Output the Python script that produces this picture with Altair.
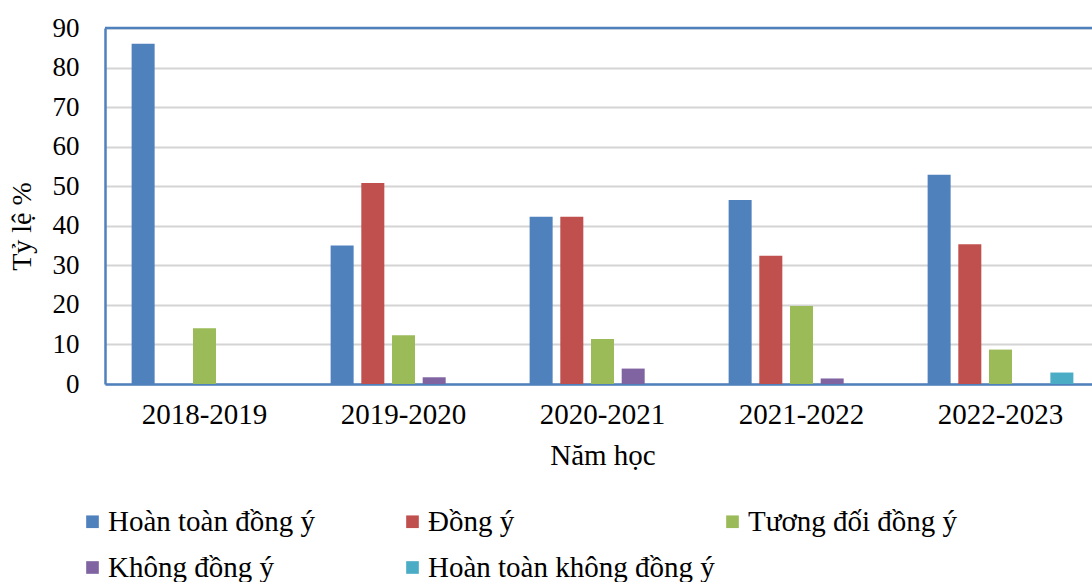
import altair as alt
import pandas as pd

# School years on the x axis
years = ["2018-2019", "2019-2020", "2020-2021", "2021-2022", "2022-2023"]

# Response categories, in legend / bar order
series = [
    "Hoàn toàn đồng ý",
    "Đồng ý",
    "Tương đối đồng ý",
    "Không đồng ý",
    "Hoàn toàn không đồng ý",
]
colors = ["#4f81bd", "#c0504d", "#9bbb59", "#8064a2", "#4bacc6"]

# Percentages per category, one value per school year
hoan_toan_dong_y = [86.0, 35.0, 42.3, 46.5, 52.9]
dong_y = [0.0, 50.8, 42.3, 32.4, 35.3]
tuong_doi_dong_y = [14.1, 12.3, 11.4, 19.7, 8.7]
khong_dong_y = [0.0, 1.7, 3.9, 1.4, 0.0]
hoan_toan_khong_dong_y = [0.0, 0.0, 0.0, 0.0, 2.9]

y_ticks = [0, 10, 20, 30, 40, 50, 60, 70, 80, 90]

values_by_series = [
    hoan_toan_dong_y,
    dong_y,
    tuong_doi_dong_y,
    khong_dong_y,
    hoan_toan_khong_dong_y,
]
rows = []
for name, vals in zip(series, values_by_series):
    for yr, v in zip(years, vals):
        rows.append({"year": yr, "series": name, "value": v})
df = pd.DataFrame(rows)

FONT = "Liberation Serif"
FRAME = "#4f81bd"

y_axis = alt.Axis(
    title="Tỷ lệ %",
    values=y_ticks,
    tickCount=10,
    labelOverlap=False,
    ticks=False,
    labelPadding=26,
    labelFont=FONT,
    labelFontSize=27,
    labelColor="#000000",
    titleFont=FONT,
    titleFontSize=28,
    titleFontWeight="normal",
    titleColor="#000000",
    titleX=-83,
    titleY=198,
    titleBaseline="middle",
    titleAngle=270,
    domainColor=FRAME,
    domainWidth=2.5,
    gridColor="#d4d4d4",
    gridWidth=2,
)
y_scale = alt.Scale(domain=[0, 90], nice=False)

bars = alt.Chart(df).mark_bar().encode(
    x=alt.X(
        "year:N",
        sort=years,
        scale=alt.Scale(range=[0, 995], paddingInner=0.229, paddingOuter=0.1145),
        axis=alt.Axis(
            title="Năm học",
            labelAngle=0,
            ticks=False,
            labelPadding=16,
            labelFont=FONT,
            labelFontSize=29,
            labelColor="#000000",
            titleFont=FONT,
            titleFontSize=29,
            titleFontWeight="normal",
            titleColor="#000000",
            titlePadding=12,
            domainColor=FRAME,
            domainWidth=2.5,
        ),
    ),
    xOffset=alt.XOffset(
        "series:N",
        sort=series,
        scale=alt.Scale(domain=series, paddingInner=0.25, paddingOuter=0.125),
    ),
    y=alt.Y("value:Q", scale=y_scale, axis=y_axis),
    color=alt.Color(
        "series:N",
        scale=alt.Scale(domain=series, range=colors),
        legend=alt.Legend(
            title=None,
            orient="none",
            legendX=-27,
            legendY=479,
            columns=3,
            direction="horizontal",
            gridAlign="all",
            columnPadding=3,
            rowPadding=16,
            symbolType="square",
            symbolSize=160,
            symbolStrokeWidth=0,
            symbolOpacity=1,
            labelFont=FONT,
            labelFontSize=29,
            labelColor="#000000",
            labelOffset=1,
            labelLimit=500,
        ),
    ),
)

# Upper edge of the plot frame
top_edge = alt.Chart(pd.DataFrame({"value": [90]})).mark_rule(
    color=FRAME, strokeWidth=2.5
).encode(y=alt.Y("value:Q", scale=y_scale, axis=y_axis))

chart = (
    alt.layer(bars, top_edge)
    .properties(
        width=987,
        height=356,
        autosize=alt.AutoSizeParams(type="none"),
        padding={"left": 105, "top": 28, "right": 0, "bottom": 198},
        background="#ffffff",
    )
    .configure_view(stroke=None)
)

chart.save("out.html", embed_options={"renderer": "svg", "actions": False})
